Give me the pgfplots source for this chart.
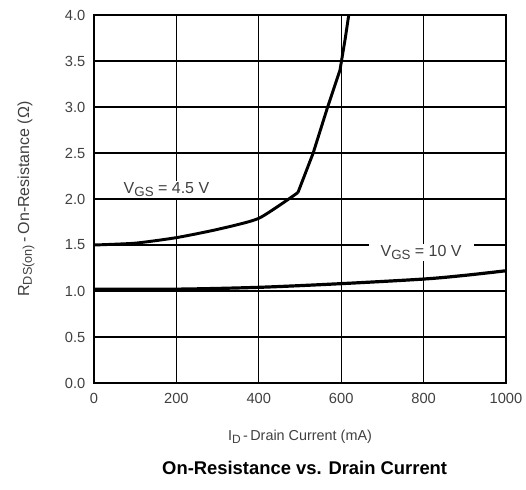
\documentclass[border=0pt]{standalone}
\usepackage{pgfplots}
\pgfplotsset{compat=1.18}
\usepackage{fontspec}
\setmainfont{Liberation Sans}
\definecolor{txt}{HTML}{404040}
\begin{document}
\begin{tikzpicture}
\begin{axis}[
  scale only axis,
  width=309pt, height=276pt,
  xmin=0, xmax=1000, ymin=0, ymax=4,
  xtick={0,200,...,1000},
  ytick={0,0.5,...,4},
  /pgf/number format/1000 sep={},
  yticklabel style={/pgf/number format/fixed, /pgf/number format/fixed zerofill, /pgf/number format/precision=1},
  /pgf/number format/assume math mode=true,
  tick label style={font=\fontsize{11}{13}\selectfont, text=txt},
  xticklabel style={yshift=-4pt},
  yticklabel style={xshift=-3pt},
  major tick length=0pt,
  grid=major,
  grid style={black, line width=0.85pt},
  axis line style={black, line width=1.1pt},
  clip=true,
  xlabel={I\raisebox{-0.35ex}{\fontsize{9}{10}\selectfont D}\,-\,Drain Current (mA)},
  label style={font=\fontsize{10.8}{12}\selectfont, text=txt},
  xlabel style={at={(axis description cs:0.5,0)}, anchor=center, yshift=-40.5pt},
]
\addplot[black, line width=2.2pt, smooth, tension=0.35] coordinates {
 (0,1.50) (100,1.52) (200,1.58) (300,1.67) (400,1.79) (495,2.07)
};
\addplot[black, line width=2.2pt] coordinates {
 (495,2.07) (532,2.50) (565,2.97) (597,3.40) (610,3.75) (620,4.05)
};
\addplot[black, line width=2.4pt, smooth] coordinates {
 (0,1.02) (200,1.02) (400,1.04) (600,1.08) (800,1.13) (900,1.17) (1000,1.22)
};
\node[fill=white, inner xsep=9pt, inner ysep=1pt, text=txt, font=\fontsize{12}{14}\selectfont] at (axis cs:176,2.10) {V\raisebox{-0.4ex}{\fontsize{10}{11}\selectfont GS} = 4.5 V};
\node[fill=white, inner xsep=9pt, inner ysep=1pt, text=txt, font=\fontsize{12}{14}\selectfont] at (axis cs:794,1.42) {V\raisebox{-0.4ex}{\fontsize{10}{11}\selectfont GS} = 10 V};
\end{axis}
\pgfresetboundingbox
\path (current axis.south west) ++(-70.5pt,-80.25pt) coordinate (bl);
\path (current axis.south west) ++(324pt,287.25pt) coordinate (tr);
\path (bl) rectangle (tr);
\node[font=\bfseries\fontsize{13.8}{16}\selectfont, anchor=center] at ([xshift=158pt,yshift=-63.5pt]current axis.south west) {On-Resistance vs. Drain Current};
\node[font=\fontsize{12}{14}\selectfont, text=txt, rotate=90, anchor=center] at ([xshift=-51pt,yshift=138pt]current axis.south west) {R\raisebox{-0.35ex}{\fontsize{9.5}{11}\selectfont DS(on)}\,-\,On-Resistance (Ω)};
\end{tikzpicture}
\end{document}
